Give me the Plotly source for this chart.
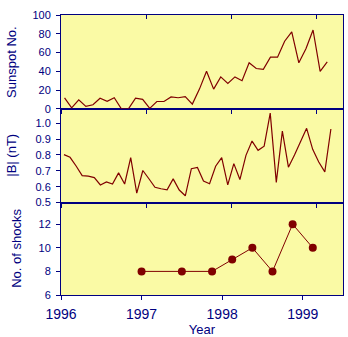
import plotly.graph_objects as go

# ---- data ----
years = [1996, 1997, 1998, 1999]

# monthly sunspot number, Jan 1996 .. Feb 1999
sunspot = [11.7, 1, 9.6, 2.5, 4.3, 11.2, 8, 11.8, 0, 0, 11.4, 10,
           0.5, 7.8, 7.8, 12.6, 11.8, 13, 5, 21, 40, 21, 34, 27,
           34, 30, 49, 43, 42, 55, 55, 72, 82, 49, 64, 84,
           40, 50]
sun_time = [1996 + (i + 0.5) / 12 for i in range(len(sunspot))]

# |B| (nT), one value per solar rotation starting early Jan 1996
b_field = [0.802, 0.785, 0.73, 0.670, 0.666, 0.657, 0.611, 0.630, 0.617,
           0.687, 0.617, 0.783, 0.560, 0.702, 0.65, 0.596, 0.587, 0.581,
           0.649, 0.579, 0.543, 0.713, 0.721, 0.636, 0.619, 0.729, 0.783,
           0.611, 0.745, 0.645, 0.797, 0.887, 0.829, 0.855, 1.063, 0.627,
           0.950, 0.723, 0.80, 0.88, 0.967, 0.835, 0.755, 0.693, 0.963]
b_start = 1996.035
b_step = 0.0712
b_time = [b_start + b_step * i for i in range(len(b_field))]

# number of shocks
shock_time = [1997.0, 1997.5, 1997.875, 1998.125, 1998.375, 1998.625, 1998.875, 1999.125]
shocks = [8, 8, 8, 9, 10, 8, 12, 10]

# ---- style ----
NAVY = "#000080"
RED = "#800000"
BG = "#FAFAA5"
FONT = "Arial, Liberation Sans, sans-serif"

fig = go.Figure()
fig.add_trace(go.Scatter(x=sun_time, y=sunspot, xaxis="x3", yaxis="y3",
                         mode="lines", line=dict(color=RED, width=1.2),
                         showlegend=False))
fig.add_trace(go.Scatter(x=b_time, y=b_field, xaxis="x2", yaxis="y2",
                         mode="lines", line=dict(color=RED, width=1.2),
                         showlegend=False))
fig.add_trace(go.Scatter(x=shock_time, y=shocks, xaxis="x", yaxis="y",
                         mode="lines+markers", line=dict(color=RED, width=1),
                         marker=dict(color=RED, size=8), showlegend=False))
fig.add_trace(go.Scatter(x=[None], y=[None], xaxis="x4", yaxis="y3",
                         mode="lines", showlegend=False, hoverinfo="skip"))

common_x = dict(tickvals=years, ticks="outside", ticklen=4, tickcolor=NAVY,
                tickwidth=1, showline=True, linecolor=NAVY, linewidth=1,
                mirror=True, showgrid=False, zeroline=False)
common_y = dict(ticks="outside", ticklen=4, tickcolor=NAVY, tickwidth=1,
                showline=True, linecolor=NAVY, linewidth=1, mirror=True,
                showgrid=False, zeroline=False, ticklabelstandoff=3,
                tickfont=dict(family=FONT, size=11, color=NAVY))

D1, D2 = 0.33, 0.665
top_range = [1996, 1999.31]

fig.update_layout(
    width=348, height=337,
    margin=dict(l=61, r=5, t=15, b=42),
    paper_bgcolor="white", plot_bgcolor=BG,
    font=dict(family=FONT, color=NAVY),
    xaxis=dict(domain=[0, 1], anchor="y", range=[1996, 1999.5],
               tickfont=dict(family=FONT, size=14, color=NAVY),
               ticklabelstandoff=2,
               title=dict(text="Year", font=dict(family=FONT, size=13, color=NAVY),
                          standoff=1),
               **common_x),
    yaxis=dict(domain=[0, D1], anchor="x", range=[6, 13.83],
               tickvals=[6, 8, 10, 12], **common_y),
    xaxis2=dict(domain=[0, 1], anchor="y2", range=top_range,
                showticklabels=False, **common_x),
    yaxis2=dict(domain=[D1, D2], anchor="x2", range=[0.5, 1.09],
                tickvals=[0.5, 0.6, 0.7, 0.8, 0.9, 1.0], tickformat=".1f",
                **common_y),
    xaxis3=dict(domain=[0, 1], anchor="y3", range=top_range,
                showticklabels=False, layer="below traces", **common_x),
    yaxis3=dict(domain=[D2, 1], anchor="x3", range=[0, 100],
                tickvals=[0, 20, 40, 60, 80, 100], **common_y),
    xaxis4=dict(overlaying="x3", anchor="y3", side="top", range=top_range,
                tickvals=years, ticks="inside", ticklen=4, tickcolor=NAVY,
                showticklabels=False, showline=False, showgrid=False,
                zeroline=False),
    annotations=[
        dict(text="Sunspot No.", xref="paper", yref="paper",
             x=(12 - 61) / 282, y=(D2 + 1) / 2, textangle=-90,
             showarrow=False, xanchor="center", yanchor="middle",
             font=dict(family=FONT, size=13, color=NAVY)),
        dict(text="|B| (nT)", xref="paper", yref="paper",
             x=(12 - 61) / 282, y=(D1 + D2) / 2, textangle=-90,
             showarrow=False, xanchor="center", yanchor="middle",
             font=dict(family=FONT, size=13, color=NAVY)),
        dict(text="No. of shocks", xref="paper", yref="paper",
             x=(17 - 61) / 282, y=D1 / 2, textangle=-90,
             showarrow=False, xanchor="center", yanchor="middle",
             font=dict(family=FONT, size=13, color=NAVY)),
    ],
)

fig.write_html("out.html")
